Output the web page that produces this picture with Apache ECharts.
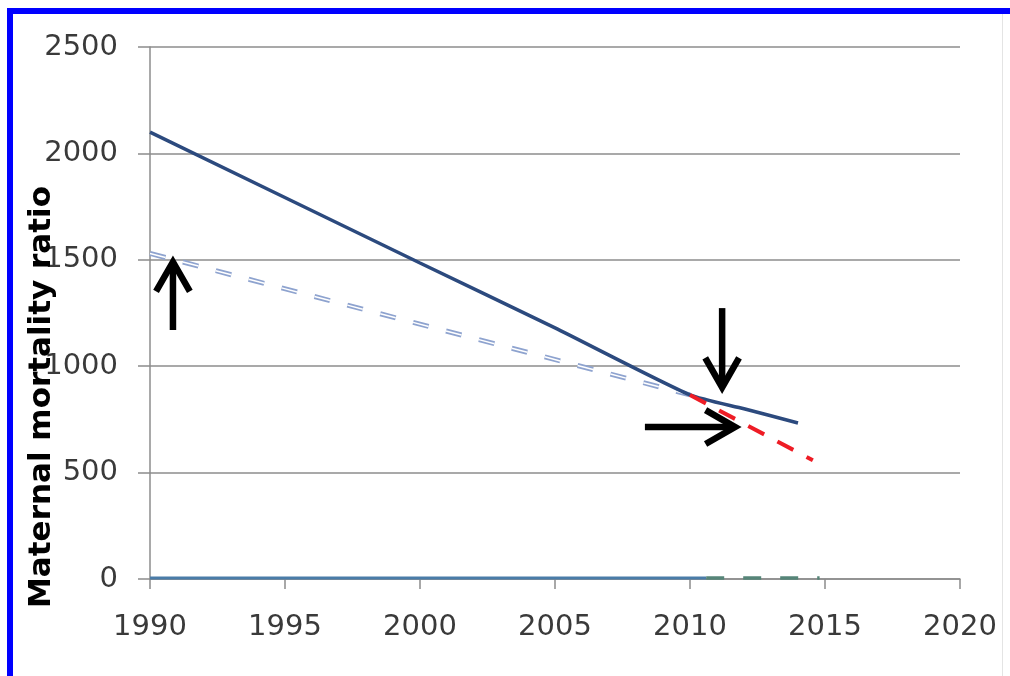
<!DOCTYPE html>
<html>
<head>
<meta charset="utf-8">
<script src="https://cdn.jsdelivr.net/npm/echarts@6/dist/echarts.min.js"></script>
<style>
html,body{margin:0;padding:0;background:#fff;}
#chart{width:1010px;height:676px;}
</style>
</head>
<body>
<div id="chart"></div>
<script>
// ---- data ----
const yTicks = [0, 500, 1000, 1500, 2000, 2500];
const xTicks = [1990, 1995, 2000, 2005, 2010, 2015, 2020];
const yAxisTitle = 'Maternal mortality ratio';

const solidYears  = [1990, 2000, 2005, 2010, 2012, 2014];
const solidValues = [2100, 1485, 1180, 865, 800, 733];

const trendYears  = [1990, 2010];
const trendValues = [1530, 865];

const redYears  = [2010, 2014.55];
const redValues = [865, 558];

const baseSolidYears  = [1990, 2010.6];
const baseSolidValues = [5, 5];
const baseDashYears   = [2010.6, 2014.8];
const baseDashValues  = [5, 5];

// arrows: [fromYear, fromValue, toYear, toValue]
const arrowUp    = [1990.85, 1170, 1990.85, 1490];
const arrowDown  = [2011.19, 1273, 2011.19, 900];
const arrowRight = [2008.33, 714, 2011.67, 714];

function pairs(xs, ys){ return xs.map((x,i)=>[x, ys[i]]); }

const chart = echarts.init(document.getElementById('chart'), null, {renderer:'canvas'});

const gridColor = '#8c8c8c';
const labelFont = {fontFamily:'DejaVu Sans', fontSize:29, color:'#3a3a3a'};

const option = {
  backgroundColor:'#ffffff',
  animation:false,
  grid:{left:150, right:50, top:47, bottom:97, containLabel:false},
  xAxis:{
    type:'value', min:xTicks[0], max:xTicks[xTicks.length-1], interval:5,
    axisLine:{show:true, onZero:false, lineStyle:{color:gridColor, width:1.5}},
    axisTick:{show:true, length:10, lineStyle:{color:gridColor, width:1.5}},
    axisLabel:Object.assign({margin:34, formatter:v=>String(v)}, labelFont),
    splitLine:{show:false}
  },
  yAxis:{
    type:'value', min:yTicks[0], max:yTicks[yTicks.length-1], interval:500,
    axisLine:{show:true, lineStyle:{color:gridColor, width:1.5}},
    axisTick:{show:true, length:12, lineStyle:{color:gridColor, width:1.5}},
    axisLabel:Object.assign({margin:32, formatter:v=>String(v)}, labelFont),
    splitLine:{show:true, lineStyle:{color:gridColor, width:1.5}}
  },
  graphic:[
    {type:'rect', shape:{x:7, y:8, width:6, height:668}, style:{fill:'#0000ff'}, z:100},
    {type:'rect', shape:{x:7, y:8, width:1003, height:6}, style:{fill:'#0000ff'}, z:100},
    {type:'rect', shape:{x:1002, y:14, width:1, height:662}, style:{fill:'#e4e4e4'}, z:100},
    {type:'text', x:42, y:397, rotation:Math.PI/2, z:100,
     style:{text:yAxisTitle, font:'bold 31px "DejaVu Sans"', fill:'#000', align:'center', verticalAlign:'middle'}}
  ],
  series:[
    {type:'line', data:pairs(baseSolidYears, baseSolidValues), showSymbol:false, symbol:'none',
     lineStyle:{color:'#4a7ca8', width:3}, z:3},
    {type:'line', data:pairs(baseDashYears, baseDashValues), showSymbol:false, symbol:'none',
     lineStyle:{color:'#568578', width:3.5, type:[18,19]}, z:3},
    {type:'line', data:pairs(trendYears, trendValues), showSymbol:false, symbol:'none',
     lineStyle:{color:'#8ea3cf', width:5, type:[16,18]}, z:4},
    {type:'line', data:pairs(trendYears, trendValues), showSymbol:false, symbol:'none',
     lineStyle:{color:'#ffffff', width:1.5, type:[16,18]}, z:5},
    {type:'line', data:pairs(solidYears, solidValues), showSymbol:false, symbol:'none', smooth:0.2,
     lineStyle:{color:'#2c4a7e', width:3.5}, z:6},
    {type:'line', data:pairs(redYears, redValues), showSymbol:false, symbol:'none',
     lineStyle:{color:'#ee1c25', width:4, type:[18,15]}, z:7},
    {type:'custom', z:10, clip:false,
     encode:{x:[0,2], y:[1,3]},
     data:[arrowUp, arrowDown, arrowRight],
     renderItem:function(params, api){
       const p1 = api.coord([api.value(0), api.value(1)]);
       const p2 = api.coord([api.value(2), api.value(3)]);
       const ang = Math.atan2(p2[1]-p1[1], p2[0]-p1[0]);
       const L = 34, a = 0.52;
       const h1 = [p2[0]-L*Math.cos(ang-a), p2[1]-L*Math.sin(ang-a)];
       const h2 = [p2[0]-L*Math.cos(ang+a), p2[1]-L*Math.sin(ang+a)];
       const e = [p2[0]-3*Math.cos(ang), p2[1]-3*Math.sin(ang)];
       return {type:'group', children:[
         {type:'line', shape:{x1:p1[0], y1:p1[1], x2:e[0], y2:e[1]}, style:{stroke:'#000', lineWidth:6.5}},
         {type:'polyline', shape:{points:[h1, p2, h2]}, style:{stroke:'#000', lineWidth:6.5, fill:null, lineJoin:'miter'}}
       ]};
     }
    }
  ]
};
chart.setOption(option);
</script>
</body>
</html>
